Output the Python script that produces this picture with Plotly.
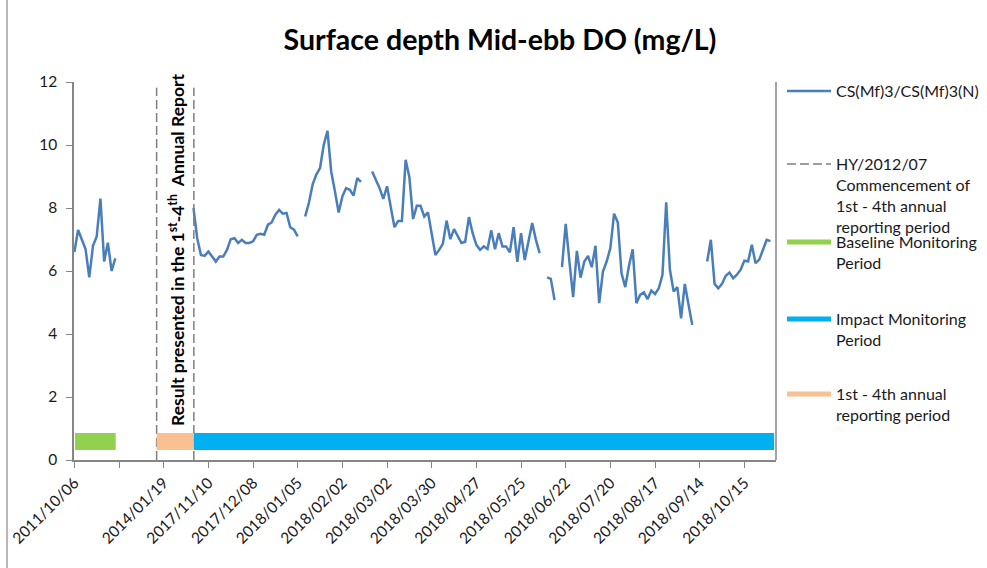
import plotly.graph_objects as go

# ---- data -------------------------------------------------------------
# Category index of each tick and the date label printed under it
tick_index = [0, 12, 24, 36, 48, 60, 72, 84, 96, 108, 120, 132, 144, 156, 168, 180]
tick_labels = ["2011/10/06", "", "2014/01/19", "2017/11/10", "2017/12/08",
               "2018/01/05", "2018/02/02", "2018/03/02", "2018/03/30",
               "2018/04/27", "2018/05/25", "2018/06/22", "2018/07/20",
               "2018/08/17", "2018/09/14", "2018/10/15"]

# DO (mg/L) per monitoring day; None = no record
baseline_do = [6.6, 7.3, 7.0, 6.7, 5.8, 6.8, 7.1, 8.3, 6.3, 6.9, 6.0, 6.4]
impact_do_a = [8.0, 7.04, 6.51, 6.48, 6.62, 6.44, 6.3, 6.46, 6.46, 6.67, 7.01,
               7.04, 6.89, 6.99, 6.89, 6.89, 6.94, 7.15, 7.18, 7.15, 7.47, 7.54,
               7.79, 7.94, 7.82, 7.84, 7.39, 7.31, 7.1]
impact_do_b = [7.73, 8.16, 8.74, 9.06, 9.27, 10.01, 10.45, 9.16, 8.53, 7.86,
               8.37, 8.63, 8.58, 8.39, 8.95, 8.83]
impact_do_c = [9.16, 8.92, 8.63, 8.29, 8.69, 8.03, 7.39, 7.59, 7.59, 9.53, 8.98,
               7.65, 8.07, 8.07, 7.73, 7.86, 7.2, 6.51, 6.67, 6.86, 7.6, 7.01,
               7.33, 7.12, 6.89, 6.93, 7.71, 7.2, 6.83, 6.67, 6.78, 6.7, 7.29,
               6.69, 7.2, 6.78, 6.78, 6.59, 7.39, 6.29, 7.2, 6.35, 6.89, 7.52,
               6.99, 6.57]
impact_do_d = [5.8, 5.75, 5.08]
impact_do_e = [6.12, 7.5, 6.3, 5.17, 6.64, 5.79, 6.3, 6.48, 6.12, 6.8, 4.98,
               5.98, 6.3, 6.73, 7.82, 7.54, 5.93, 5.49, 6.16, 6.69, 4.98, 5.24,
               5.32, 5.11, 5.38, 5.27, 5.45, 5.88, 8.18, 6.04, 5.35, 5.49, 4.5,
               5.59, 4.93, 4.29]
impact_do_f = [6.3, 6.99, 5.59, 5.45, 5.59, 5.85, 5.95, 5.77, 5.88, 6.04, 6.33,
               6.3, 6.83, 6.25, 6.36, 6.65, 6.99, 6.95]

# (first category, values) of each recorded run
runs = [(0, baseline_do), (32, impact_do_a), (62, impact_do_b),
        (80, impact_do_c), (127, impact_do_d), (131, impact_do_e),
        (170, impact_do_f)]
n_categories = 189

# vertical markers (category positions) and period bars
marker_x = [22.1, 32.1]
marker_top = 11.82
period_labels = ["Baseline Monitoring<br>Period", "Impact Monitoring<br>Period",
                 "1st - 4th annual<br>reporting period"]
period_start = [0.17, 32.1, 22.1]
period_end = [11.1, 188.0, 32.1]
period_level = 0.59
period_colors = ["#92d050", "#00b0f0", "#fac090"]

# ---- build series -------------------------------------------------------
do_values = [None] * n_categories
for start, vals in runs:
    for k, v in enumerate(vals):
        do_values[start + k] = v
cat_x = list(range(n_categories))

FONT = "Lato"
TXT = "#1a1a1a"
AX = "#868686"

fig = go.Figure()

fig.add_trace(go.Scatter(
    x=cat_x, y=do_values, mode="lines", name="CS(Mf)3/CS(Mf)3(N)",
    line=dict(color="#4a7ebb", width=2.5), connectgaps=False,
    legend="legend", showlegend=True))

mx, my = [], []
for xv in marker_x:
    mx += [xv, xv, None]
    my += [0, marker_top, None]
fig.add_trace(go.Scatter(
    x=mx, y=my, mode="lines",
    name="HY/2012/07<br>Commencement of<br>1st - 4th annual<br>reporting period",
    line=dict(color="#7f7f7f", width=1.5, dash="9px,4px"), legend="legend2"))

for i, (lbl, s, e, c) in enumerate(zip(period_labels, period_start, period_end, period_colors)):
    fig.add_trace(go.Scatter(
        x=[s, e], y=[period_level, period_level], mode="lines", name=lbl,
        line=dict(color=c, width=17), legend=f"legend{i + 3}"))

# ---- layout ---------------------------------------------------------------
L, R, T, B = 74, 211, 82, 108
W, H = 987, 568
pw, ph = W - L - R, H - T - B


def px_x(p):
    return (p - L) / pw


def px_y(p):
    return (H - B - p) / ph


def legend_at(ypix, **kw):
    d = dict(x=px_x(782), y=px_y(ypix), xanchor="left", yanchor="top",
             font=dict(family=FONT, size=16, color=TXT),
             bgcolor="rgba(0,0,0,0)", itemwidth=44, valign="top",
             tracegroupgap=0)
    d.update(kw)
    return d


fig.update_layout(
    width=W, height=H,
    margin=dict(l=L, r=R, t=T, b=B, autoexpand=False),
    paper_bgcolor="white", plot_bgcolor="white",
    showlegend=True,
    title=dict(text="<b>Surface depth Mid-ebb DO (mg/L)</b>",
               x=500 / W, xanchor="center", xref="container",
               y=1 - 40 / H, yanchor="middle", yref="container",
               font=dict(family=FONT, size=28.5, color="black")),
    xaxis=dict(range=[-0.1, 188.5], tickmode="array", tickvals=tick_index,
               ticktext=tick_labels, tickangle=-45, ticks="outside",
               ticklen=6, tickcolor=AX, showline=True, linecolor=AX,
               linewidth=1.5, showgrid=False, zeroline=False,
               tickfont=dict(family=FONT, size=15.5, color=TXT)),
    yaxis=dict(range=[0, 12], dtick=2, ticks="outside", ticklen=6,
               tickcolor=AX, showline=True, linecolor=AX, linewidth=1.5,
               showgrid=False, zeroline=False, ticklabelstandoff=6,
               tickfont=dict(family=FONT, size=15.5, color=TXT)),
    legend=legend_at(74),
    legend2=legend_at(147),
    legend3=legend_at(225, itemsizing="constant"),
    legend4=legend_at(302, itemsizing="constant"),
    legend5=legend_at(377, itemsizing="constant"),
    shapes=[
        dict(type="line", xref="paper", yref="paper", x0=1, x1=1, y0=0, y1=1,
             line=dict(color=AX, width=1.5)),
        dict(type="line", xref="paper", yref="paper", x0=px_x(7), x1=px_x(7),
             y0=px_y(H), y1=px_y(0), line=dict(color="#a0a0a0", width=1.5)),
    ],
    annotations=[
        dict(text="<b>Result presented in the 1<sup>st</sup>-4<sup>th</sup>  Annual Report</b>",
             x=27.3, y=(H - B - 250) / ph * 12, xref="x", yref="y",
             textangle=-90, showarrow=False,
             font=dict(family=FONT, size=17.5, color="black")),
    ],
)

fig.write_html("out.html")
